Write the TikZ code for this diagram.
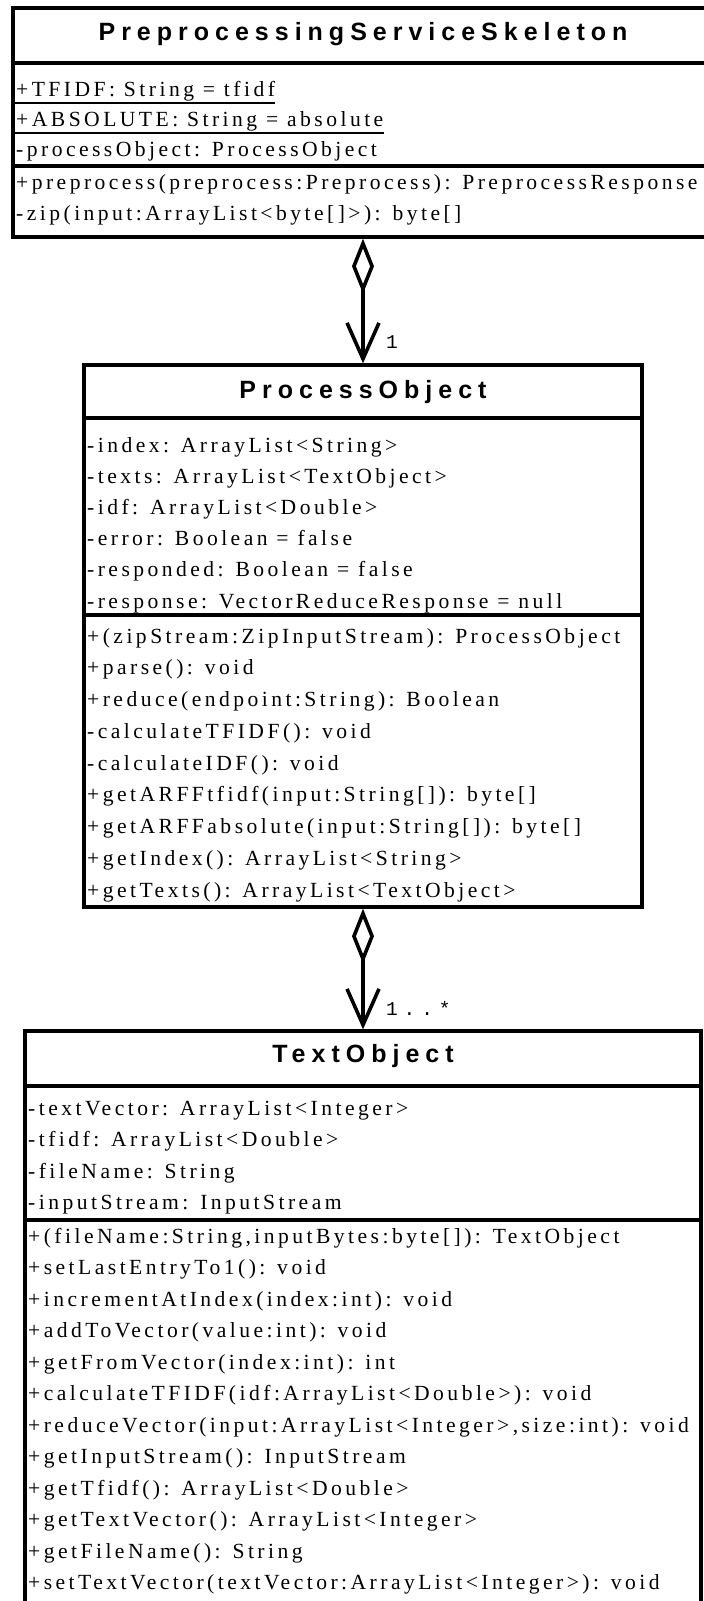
\documentclass[tikz,border=0pt]{standalone}
\usepackage{fontspec}
\usetikzlibrary{arrows.meta}
\newfontfamily\bodyf[LetterSpace=16]{Liberation Serif}
\newfontfamily\titlef[LetterSpace=24]{Liberation Sans}
\newfontfamily\monof[LetterSpace=30]{Liberation Mono}
\begin{document}
\begin{tikzpicture}[x=1pt,y=-1pt,
  box/.style={draw, line width=3.4pt, inner sep=0pt, fill=white},
  sep/.style={line width=3.4pt},
  uline/.style={line width=1.5pt},
  title/.style={anchor=base, inner sep=0pt, font=\titlef\bfseries\fontsize{25}{29}\selectfont},
  row/.style={anchor=base west, inner sep=0pt, font=\bodyf\fontsize{21.6}{25}\selectfont},
  mult/.style={anchor=base west, inner sep=0pt, font=\monof\fontsize{19.5}{23}\selectfont},
  assoc/.style={line width=3.6pt, arrows={Diamond[open,length=55pt,width=22pt]-Straight Barb[length=36pt,width=32pt]}}]
\fill[white] (0,0) rectangle (704,1601);
\useasboundingbox (0,0) rectangle (704,1601);

% ---- PreprocessingServiceSkeleton
\node[box, minimum width=700pt, minimum height=229pt] (A) at (363,122.5) {};
\draw[sep] (13,63) -- (713,63);
\draw[sep] (13,166) -- (713,166);
\node[title] (At) at (363,40) {PreprocessingServiceSkeleton};
\node[row] (a1) at (16,96) {+TFIDF: String = tfidf};
\node[row] (a2) at (16,126) {+ABSOLUTE: String = absolute};
\node[row] (a3) at (16,156) {-processObject: ProcessObject};
\node[row] (a4) at (16,189) {+preprocess(preprocess:Preprocess): PreprocessResponse};
\node[row] (a5) at (16,220) {-zip(input:ArrayList<byte[]>): byte[]};
\coordinate (u1) at (0,103);
\coordinate (u2) at (0,133);
\draw[uline] (13,103) -- (a1.east |- u1);
\draw[uline] (13,133) -- (a2.east |- u2);

% ---- ProcessObject
\node[box, minimum width=558pt, minimum height=542pt] (PO) at (363,636) {};
\draw[sep] (84,418) -- (642,418);
\draw[sep] (84,615) -- (642,615);
\node[title] (POt) at (363,398) {ProcessObject};
\node[row] (p1) at (87,452) {-index: ArrayList<String>};
\node[row] (p2) at (87,483.2) {-texts: ArrayList<TextObject>};
\node[row] (p3) at (87,514.4) {-idf: ArrayList<Double>};
\node[row] (p4) at (87,545.6) {-error: Boolean = false};
\node[row] (p5) at (87,576.8) {-responded: Boolean = false};
\node[row] (p6) at (87,608) {-response: VectorReduceResponse = null};
\node[row] (q1) at (87,643) {+(zipStream:ZipInputStream): ProcessObject};
\node[row] (q2) at (87,674.75) {+parse(): void};
\node[row] (q3) at (87,706.5) {+reduce(endpoint:String): Boolean};
\node[row] (q4) at (87,738.25) {-calculateTFIDF(): void};
\node[row] (q5) at (87,770) {-calculateIDF(): void};
\node[row] (q6) at (87,801.75) {+getARFFtfidf(input:String[]): byte[]};
\node[row] (q7) at (87,833.5) {+getARFFabsolute(input:String[]): byte[]};
\node[row] (q8) at (87,865.25) {+getIndex(): ArrayList<String>};
\node[row] (q9) at (87,897) {+getTexts(): ArrayList<TextObject>};

% ---- TextObject
\node[box, minimum width=676pt, minimum height=580pt] (TO) at (363,1321) {};
\draw[sep] (25,1086) -- (701,1086);
\draw[sep] (25,1220) -- (701,1220);
\node[title] (TOt) at (363,1062) {TextObject};
\node[row] (t1) at (28,1115) {-textVector: ArrayList<Integer>};
\node[row] (t2) at (28,1146.5) {-tfidf: ArrayList<Double>};
\node[row] (t3) at (28,1178) {-fileName: String};
\node[row] (t4) at (28,1209.5) {-inputStream: InputStream};
\node[row] (s1) at (28,1243) {+(fileName:String,inputBytes:byte[]): TextObject};
\node[row] (s2) at (28,1274.5) {+setLastEntryTo1(): void};
\node[row] (s3) at (28,1306) {+incrementAtIndex(index:int): void};
\node[row] (s4) at (28,1337.5) {+addToVector(value:int): void};
\node[row] (s5) at (28,1369) {+getFromVector(index:int): int};
\node[row] (s6) at (28,1400.5) {+calculateTFIDF(idf:ArrayList<Double>): void};
\node[row] (s7) at (28,1432) {+reduceVector(input:ArrayList<Integer>,size:int): void};
\node[row] (s8) at (28,1463.5) {+getInputStream(): InputStream};
\node[row] (s9) at (28,1495) {+getTfidf(): ArrayList<Double>};
\node[row] (s10) at (28,1526.5) {+getTextVector(): ArrayList<Integer>};
\node[row] (s11) at (28,1558) {+getFileName(): String};
\node[row] (s12) at (28,1589.5) {+setTextVector(textVector:ArrayList<Integer>): void};

% ---- associations
\draw[assoc] (A.south) -- (PO.north);
\draw[assoc] (PO.south) -- (TO.north);
\node[mult] (m1) at (386,348) {1};
\node[mult] (m2) at (386,1015) {1..*};
\end{tikzpicture}
\end{document}
